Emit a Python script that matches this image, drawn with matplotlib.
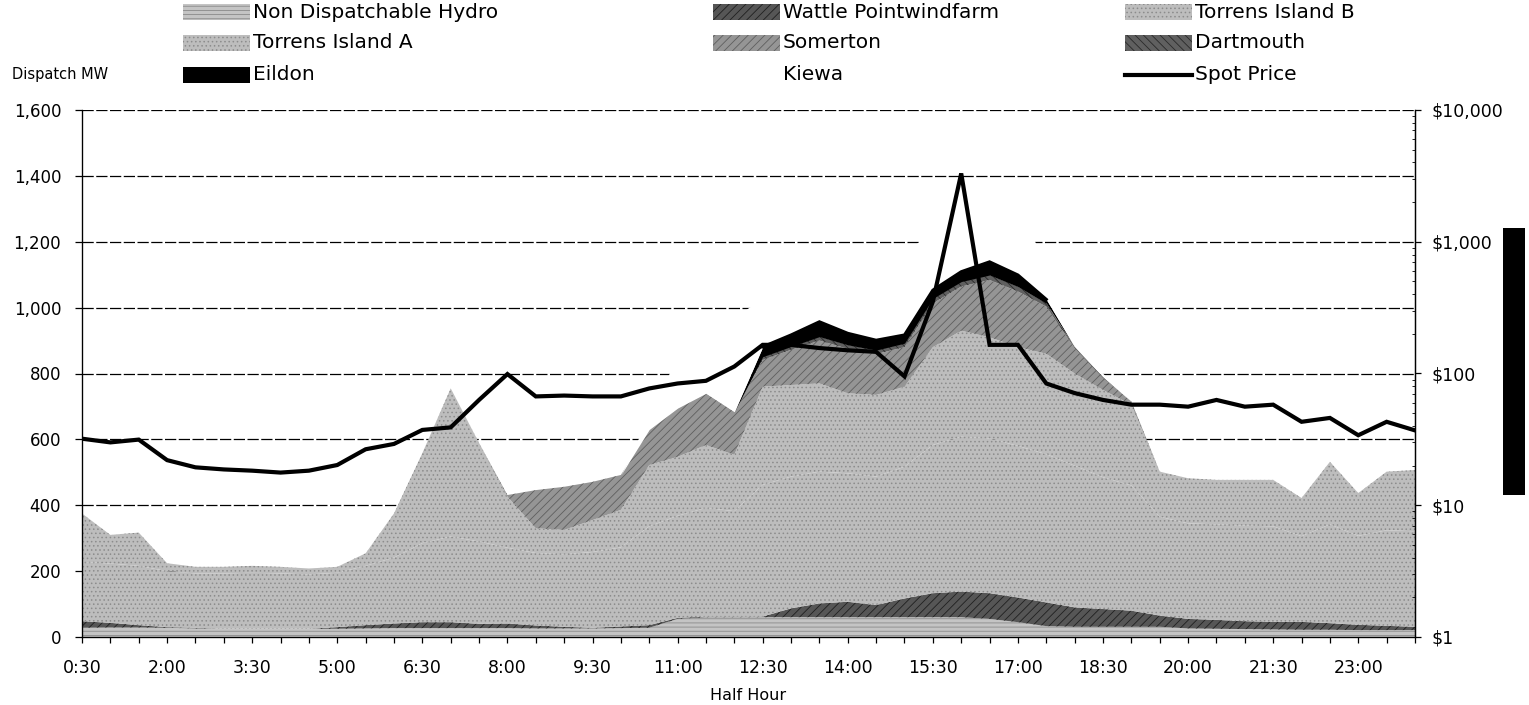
import numpy as np
import matplotlib
matplotlib.use("Agg")
import matplotlib.pyplot as plt
from matplotlib.patches import Rectangle
from matplotlib.lines import Line2D
from matplotlib.ticker import FixedLocator, FuncFormatter, LogLocator, NullFormatter

# ---- data -------------------------------------------------------------
half_hours = ["0:30", "1:00", "1:30", "2:00", "2:30", "3:00", "3:30", "4:00",
              "4:30", "5:00", "5:30", "6:00", "6:30", "7:00", "7:30", "8:00",
              "8:30", "9:00", "9:30", "10:00", "10:30", "11:00", "11:30", "12:00",
              "12:30", "13:00", "13:30", "14:00", "14:30", "15:00", "15:30", "16:00",
              "16:30", "17:00", "17:30", "18:00", "18:30", "19:00", "19:30", "20:00",
              "20:30", "21:00", "21:30", "22:00", "22:30", "23:00", "23:30", "24:00"]

non_dispatchable_hydro = [28, 29, 29, 28, 26, 25, 25, 25, 25, 25,
                          26, 27, 27, 27, 27, 27, 26, 26, 26, 27,
                          28, 55, 60, 60, 60, 60, 60, 60, 60, 60,
                          60, 60, 55, 45, 33, 31, 31, 31, 31, 26,
                          25, 24, 23, 22, 22, 21, 21, 21]
wattle_point = [20, 14, 7, 2, 2, 0, 0, 0, 0, 5,
                10, 14, 18, 18, 13, 14, 9, 5, 2, 5,
                8, 3, 2, 2, 2, 27, 42, 47, 37, 57,
                73, 78, 78, 75, 72, 59, 54, 49, 34, 29,
                27, 24, 23, 24, 20, 16, 13, 10]
torrens_b = [180, 180, 180, 170, 165, 168, 170, 168, 165, 165,
             180, 200, 240, 260, 250, 230, 220, 220, 230, 240,
             300, 310, 330, 320, 400, 400, 400, 390, 390, 400,
             450, 470, 470, 460, 450, 430, 400, 380, 300, 290,
             290, 290, 290, 260, 300, 270, 290, 290]
torrens_a = [147, 87, 101, 24, 20, 20, 21, 20, 18, 18,
             38, 134, 273, 450, 299, 155, 75, 74, 97, 114,
             186, 179, 191, 171, 298, 278, 268, 243, 248, 243,
             297, 322, 307, 300, 305, 280, 265, 245, 137, 137,
             135, 139, 141, 116, 190, 130, 178, 186]
somerton = [0, 0, 0, 0, 0, 0, 0, 0, 0, 0,
            0, 0, 0, 0, 0, 5, 116, 131, 116, 106,
            108, 148, 157, 131, 81, 107, 130, 135, 124, 120,
            133, 134, 174, 169, 143, 76, 37, 10, 0, 0,
            0, 0, 0, 0, 0, 0, 0, 0]
dartmouth = [0, 0, 0, 0, 0, 0, 0, 0, 0, 0,
             0, 0, 0, 0, 0, 0, 0, 0, 0, 0,
             0, 0, 0, 0, 10, 10, 12, 12, 12, 12,
             15, 15, 15, 15, 10, 5, 3, 0, 0, 0,
             0, 0, 0, 0, 0, 0, 0, 0]
eildon = [0, 0, 0, 0, 0, 0, 0, 0, 0, 0,
          0, 0, 0, 0, 0, 0, 0, 0, 0, 0,
          0, 0, 0, 0, 30, 35, 45, 35, 30, 25,
          25, 30, 40, 35, 12, 0, 0, 0, 0, 0,
          0, 0, 0, 0, 0, 0, 0, 0]
kiewa = [0, 0, 0, 0, 0, 0, 0, 0, 0, 0,
         0, 0, 0, 0, 0, 0, 0, 0, 0, 0,
         42, 160, 190, 286, 149, 143, 143, 188, 229, 253,
         177, 181, 181, 222, 94, 0, 10, 0, 0, 0,
         0, 0, 0, 0, 0, 0, 0, 0]
spot_price = [32, 30, 31.5, 22, 19.4, 18.7, 18.3, 17.7, 18.3, 20.2,
              26.6, 29.2, 37.3, 39, 63, 99, 67, 68, 67, 67,
              77, 84, 88, 113, 165, 165, 156, 150, 146, 95,
              351, 3300, 165, 165, 84, 71, 63, 58, 58, 56,
              63, 56, 58, 43, 46, 34, 43, 37]

series_names = ["Non Dispatchable Hydro", "Wattle Pointwindfarm", "Torrens Island B",
                "Torrens Island A", "Somerton", "Dartmouth", "Eildon", "Kiewa"]
series_values = [non_dispatchable_hydro, wattle_point, torrens_b, torrens_a,
                 somerton, dartmouth, eildon, kiewa]

# ---- styles -----------------------------------------------------------
styles = {
    "Non Dispatchable Hydro": dict(fc="#c4c4c4", ec="#8a8a8a", hatch="----"),
    "Wattle Pointwindfarm":   dict(fc="#565656", ec="#202020", hatch="////"),
    "Torrens Island B":       dict(fc="#bdbdbd", ec="#8c8c8c", hatch="...."),
    "Torrens Island A":       dict(fc="#bdbdbd", ec="#8c8c8c", hatch="...."),
    "Somerton":               dict(fc="#959595", ec="#5e5e5e", hatch="////"),
    "Dartmouth":              dict(fc="#606060", ec="#2a2a2a", hatch="\\\\\\\\"),
    "Eildon":                 dict(fc="#000000", ec="#000000", hatch=None),
    "Kiewa":                  dict(fc="#ffffff", ec="#ffffff", hatch=None),
}
plt.rcParams["hatch.linewidth"] = 0.6
plt.rcParams["font.family"] = ["DejaVu Sans"]

W, H = 1529, 705
fig = plt.figure(figsize=(W / 100, H / 100), dpi=100)
ax = fig.add_axes([82 / W, 1 - 637 / H, (1415 - 82) / W, (637 - 110) / H])

x = np.arange(len(half_hours))
base = np.zeros(len(x))
for name, vals in zip(series_names, series_values):
    top = base + np.asarray(vals, dtype=float)
    st = styles[name]
    ax.fill_between(x, base, top, facecolor=st["fc"], edgecolor=st["ec"],
                    hatch=st["hatch"], linewidth=0, zorder=2)
    base = top

# outline along the top of the Eildon band
cum_before_eildon = np.sum(np.array(series_values[:6], dtype=float), axis=0)
eildon_top = cum_before_eildon + np.asarray(eildon, dtype=float)
idx = np.where(np.asarray(eildon) > 0)[0]
ax.plot(idx, eildon_top[idx], color="black", lw=2.2, zorder=3, solid_joinstyle="miter")

# horizontal gridlines behind the areas
for yv in range(200, 1601, 200):
    ax.axhline(yv, color="black", lw=0.9, ls=(0, (9, 2)), zorder=1)

ax.set_xlim(0, len(x) - 1)
ax.set_ylim(0, 1600)
ax.set_yticks(np.arange(0, 1601, 200))
ax.yaxis.set_major_formatter(FuncFormatter(lambda v, p: f"{int(v):,}"))
ax.set_xticks(x)
ax.set_xticklabels([lab if i % 3 == 0 else "" for i, lab in enumerate(half_hours)])
ax.tick_params(axis="x", direction="out", length=4, width=0.9, pad=12, labelsize=12.5)
ax.tick_params(axis="y", direction="out", length=5, width=0.9, pad=10, labelsize=12)
ax.spines["top"].set_visible(False)
for s in ("left", "bottom", "right"):
    ax.spines[s].set_linewidth(0.9)
    ax.spines[s].set_zorder(5)
ax.set_xlabel("Half Hour", fontsize=11.5, labelpad=8)

# spot price on a log scale
ax2 = ax.twinx()
ax2.set_yscale("log")
ax2.set_ylim(1, 10000)
ax2.set_xlim(0, len(x) - 1)
ax2.plot(x, spot_price, color="black", lw=3.0, zorder=6, solid_joinstyle="miter")
ax2.yaxis.set_major_locator(FixedLocator([1, 10, 100, 1000, 10000]))
ax2.yaxis.set_major_formatter(FuncFormatter(lambda v, p: f"${int(round(v)):,}"))
ax2.yaxis.set_minor_locator(LogLocator(base=10, subs=np.arange(2, 10)))
ax2.yaxis.set_minor_formatter(NullFormatter())
ax2.tick_params(axis="y", which="major", direction="out", length=4, width=0.9, pad=8, labelsize=12.5)
ax2.tick_params(axis="y", which="minor", direction="in", length=2, width=0.6)
ax2.spines["top"].set_visible(False)
ax2.spines["right"].set_linewidth(0.9)

fig.text(12 / W, 1 - 75 / H, "Dispatch MW", fontsize=10.5, va="center", ha="left")

# ---- legend (three columns) ---------------------------------------------
legend_rows = [["Non Dispatchable Hydro", "Wattle Pointwindfarm", "Torrens Island B"],
               ["Torrens Island A", "Somerton", "Dartmouth"],
               ["Eildon", "Kiewa", "Spot Price"]]
col_x = [183, 713, 1125]
row_y = [12, 43, 75]
sw_w, sw_h = 67, 15
for r, row in enumerate(legend_rows):
    for c, name in enumerate(row):
        x0 = col_x[c]
        yc = row_y[r]
        if name == "Spot Price":
            fig.add_artist(Line2D([x0 / W, (x0 + sw_w) / W], [1 - yc / H, 1 - yc / H],
                                  color="black", lw=3.0, transform=fig.transFigure))
        elif name != "Kiewa":
            st = styles[name]
            fig.add_artist(Rectangle((x0 / W, 1 - (yc + sw_h / 2) / H), sw_w / W, sw_h / H,
                                     facecolor=st["fc"], edgecolor=st["ec"], hatch=st["hatch"],
                                     linewidth=0, transform=fig.transFigure))
        fig.text((x0 + sw_w + 3) / W, 1 - yc / H, name, fontsize=14.5, va="center", ha="left")

# black bar at the right edge
fig.add_artist(Rectangle((1503 / W, 1 - 495 / H), 22 / W, (495 - 228) / H,
                         facecolor="black", edgecolor="none", transform=fig.transFigure))

fig.savefig("out.png", dpi=100)
